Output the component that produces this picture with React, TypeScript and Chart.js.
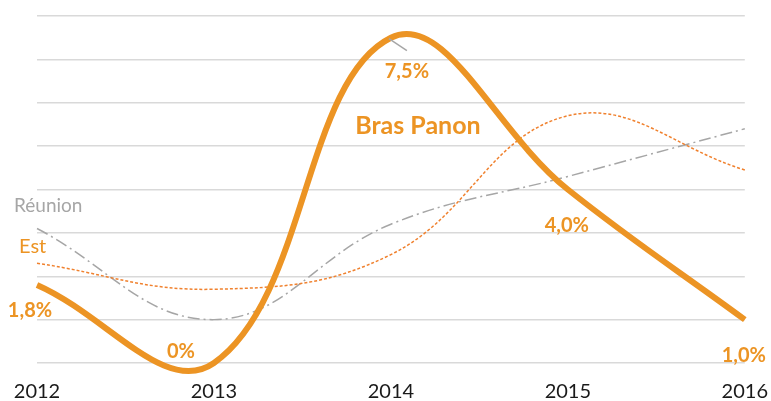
import React, { useEffect, useRef } from "react";
import { Chart, registerables } from "chart.js";

Chart.register(...registerables);

const categories = ["2012", "2013", "2014", "2015", "2016"];
const brasPanon = [1.8, 0, 7.5, 4.0, 1.0];
const reunion = [3.1, 1.0, 3.2, 4.3, 5.4];
const est = [2.3, 1.7, 2.5, 5.7, 4.45];
const valueLabels = ["1,8%", "0%", "7,5%", "4,0%", "1,0%"];
const seriesNames = ["Bras Panon", "Réunion", "Est"];

const ORANGE = "#EC9424";
const EST_COLOR = "#F0812E";
const GREY = "#A6A6A6";
const FONT = "Lato, 'Open Sans', sans-serif";

// offsets (px) of value labels relative to their Bras Panon point: [dx (center), dy (baseline)]
const labelOffsets: [number, number][] = [
  [-7, 32],
  [-33, -5],
  [16, 40],
  [-1, 42],
  [-1, 42],
];

const labelsPlugin = {
  id: "customLabels",
  afterDatasetsDraw(chart: any) {
    const ctx = chart.ctx;
    const xs = chart.scales.x;
    const ys = chart.scales.y;
    ctx.save();
    // leader line for 7,5%
    const p2x = xs.getPixelForValue(2);
    const p2y = ys.getPixelForValue(brasPanon[2]);
    ctx.strokeStyle = GREY;
    ctx.lineWidth = 1.5;
    ctx.beginPath();
    ctx.moveTo(p2x - 2, p2y + 1);
    ctx.lineTo(p2x + 16, p2y + 13);
    ctx.stroke();

    ctx.fillStyle = ORANGE;
    ctx.font = `bold 20px ${FONT}`;
    ctx.textAlign = "center";
    ctx.textBaseline = "alphabetic";
    brasPanon.forEach((v, i) => {
      const px = xs.getPixelForValue(i);
      const py = ys.getPixelForValue(v);
      const [dx, dy] = labelOffsets[i];
      ctx.fillText(valueLabels[i], px + dx, py + dy);
    });

    // series names
    ctx.font = `bold 25px ${FONT}`;
    ctx.fillText(seriesNames[0], p2x + 27, p2y + 96);

    ctx.textAlign = "left";
    ctx.font = `19px ${FONT}`;
    ctx.fillStyle = GREY;
    ctx.fillText(seriesNames[1], xs.getPixelForValue(0) - 23, ys.getPixelForValue(reunion[0]) - 17);
    ctx.font = `20px ${FONT}`;
    ctx.fillStyle = ORANGE;
    ctx.fillText(seriesNames[2], xs.getPixelForValue(0) - 18, ys.getPixelForValue(est[0]) - 10);
    ctx.restore();
  },
};

export default function App() {
  const ref = useRef<HTMLCanvasElement | null>(null);
  useEffect(() => {
    if (!ref.current) return;
    const chart = new Chart(ref.current, {
      type: "line",
      data: {
        labels: categories,
        datasets: [
          {
            label: seriesNames[0],
            data: brasPanon,
            borderColor: ORANGE,
            borderWidth: 6,
            pointRadius: 0,
            tension: 0.4,
            clip: false as any,
            order: 0,
          },
          {
            label: seriesNames[2],
            data: est,
            borderColor: EST_COLOR,
            borderWidth: 1.5,
            borderDash: [3, 2],
            pointRadius: 0,
            tension: 0.4,
            clip: false as any,
            order: 1,
          },
          {
            label: seriesNames[1],
            data: reunion,
            borderColor: GREY,
            borderWidth: 1.5,
            borderDash: [12, 4, 2, 4],
            pointRadius: 0,
            tension: 0.4,
            clip: false as any,
            order: 2,
          },
        ],
      },
      options: {
        responsive: false,
        animation: false,
        elements: { line: { capBezierPoints: false } },
        layout: { padding: { left: 37, right: 26, top: 16, bottom: 0 } },
        plugins: { legend: { display: false }, tooltip: { enabled: false } },
        scales: {
          x: {
            grid: {
              display: true,
              drawOnChartArea: false,
              drawTicks: true,
              tickLength: 14,
              color: "rgba(0,0,0,0)",
            },
            border: { display: false },
            ticks: {
              color: "#1a1a1a",
              font: { family: FONT, size: 20 },
              padding: 3,
              maxRotation: 0,
              autoSkip: false,
            },
            afterFit: (s: any) => {
              s.height = 38;
            },
          },
          y: {
            min: 0,
            max: 8,
            grid: { color: "#D9D9D9", lineWidth: 1.5, drawTicks: false },
            border: { display: false },
            ticks: { display: false, stepSize: 1 },
            afterFit: (s: any) => {
              s.width = 0;
            },
          },
        },
      },
      plugins: [labelsPlugin],
    });
    return () => chart.destroy();
  }, []);
  return (
    <div style={{ position: "absolute", left: 0, top: 0, width: 771, height: 401, background: "#fff" }}>
      <canvas ref={ref} width={771} height={401} />
    </div>
  );
}
